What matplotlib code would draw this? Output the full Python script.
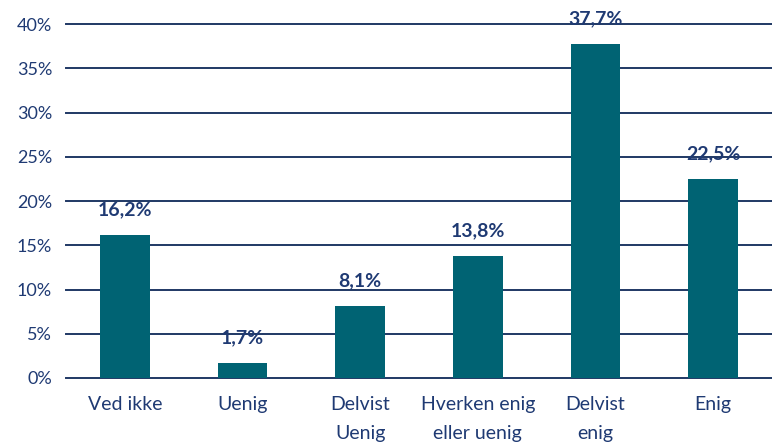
import matplotlib
matplotlib.use("Agg")
import matplotlib.pyplot as plt
from matplotlib.ticker import FuncFormatter

categories = ["Ved ikke", "Uenig", "Delvist\nUenig", "Hverken enig\neller uenig", "Delvist\nenig", "Enig"]
values = [16.2, 1.7, 8.1, 13.8, 37.7, 22.5]
labels = ["16,2%", "1,7%", "8,1%", "13,8%", "37,7%", "22,5%"]

plt.rcParams['font.family'] = ['Lato', 'DejaVu Sans']
text_color = "#1F3A73"
bar_color = "#006373"
grid_color = "#1F3864"

fig = plt.figure(figsize=(7.72, 4.44), dpi=100)
ax = fig.add_axes([66/772, 1-378/444, 1-66/772, (378-24)/444])

x = list(range(len(categories)))
ax.bar(x, values, width=0.42, color=bar_color, zorder=3)
ax.set_xlim(-0.5, len(categories)-0.5)
ax.set_ylim(0, 40)
ax.set_yticks(range(0, 41, 5))
ax.yaxis.set_major_formatter(FuncFormatter(lambda v, p: f"{int(v)}%"))
for yv in range(0, 41, 5):
    ax.axhline(yv, color=grid_color, lw=1.4, zorder=1, clip_on=False)

for xi, v, lab in zip(x, values, labels):
    ax.annotate(lab, (xi, v), xytext=(0, 12), textcoords="offset points",
                ha="center", va="bottom", fontsize=14, fontweight="bold",
                color=text_color, zorder=4)

ax.set_xticks(x)
ax.set_xticklabels(categories, linespacing=1.85)
ax.tick_params(axis='x', length=0, labelsize=14, labelcolor=text_color, pad=13)
ax.tick_params(axis='y', length=0, labelsize=13, labelcolor=text_color, pad=10)
for s in ax.spines.values():
    s.set_visible(False)

fig.savefig("out.png", dpi=100)
